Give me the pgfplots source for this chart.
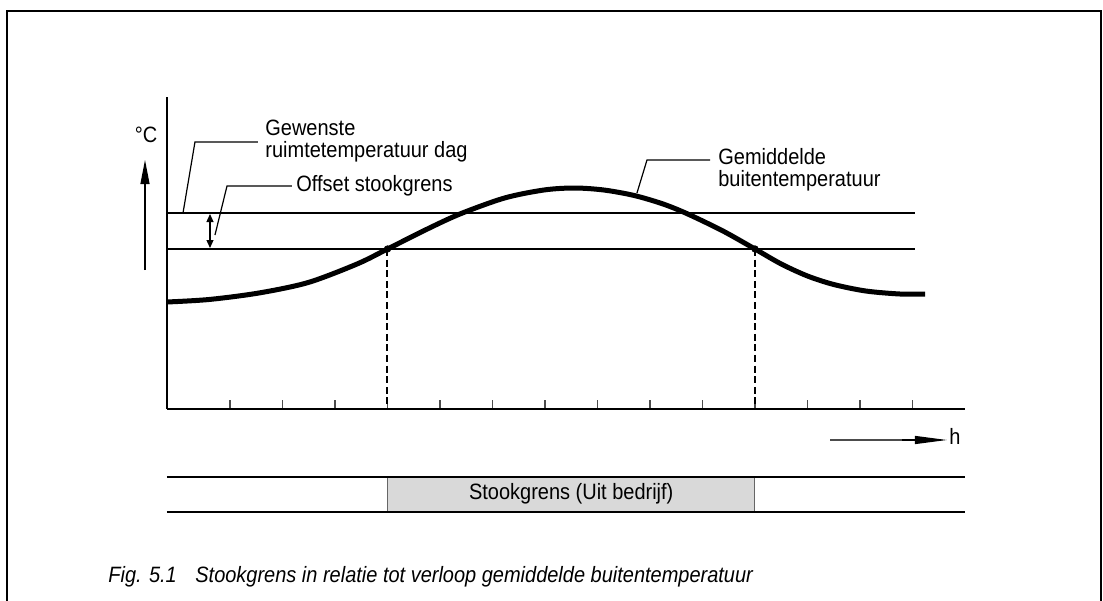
\documentclass[border=0pt]{standalone}
\usepackage{fontspec}
\setmainfont{Liberation Sans}[FakeStretch=0.9]
\usepackage{pgfplots}
\pgfplotsset{compat=1.18}
\usetikzlibrary{arrows.meta}

\tikzset{lbl/.style={font=\fontsize{11.1}{11}\selectfont, inner sep=0pt}}

\begin{document}
\begin{tikzpicture}
\begin{axis}[
  scale only axis,
  width=399pt, height=156pt,
  xmin=-0.2, xmax=15, ymin=0, ymax=31.2,
  axis lines*=left,
  axis line style={line width=0.9pt},
  xtick={1,...,14}, xticklabels={},
  ytick=\empty,
  xtick align=inside,
  major tick length=4.5pt,
  tick style={line width=0.6pt, black!70},
  clip=false,
]
% limit lines
\addplot[line width=1pt] coordinates {(-0.2,19.6) (14.05,19.6)};
\addplot[line width=1pt] coordinates {(-0.2,16.0) (14.05,16.0)};
% switch-off points
\addplot[line width=1pt, dash pattern=on 3.5pt off 1.8pt] coordinates {(4,16) (4,0)};
\addplot[line width=1pt, dash pattern=on 3.5pt off 1.8pt] coordinates {(11,16) (11,0)};
% average outdoor temperature
\addplot[line width=2.5pt, smooth, tension=0.5] coordinates {
  (-0.2,10.7) (0.6,10.95) (1.55,11.6) (2.49,12.65) (3.42,14.5) (4.0,16.0)
  (4.72,17.9) (5.38,19.5) (6.23,21.1) (6.98,21.9) (7.56,22.1) (8.12,21.9)
  (8.7,21.35) (9.25,20.5) (9.72,19.5) (10.39,17.8) (11.0,16.0) (11.5,14.5)
  (12.0,13.3) (12.5,12.45) (13.11,11.8) (13.76,11.5) (14.24,11.5)};
\addplot[only marks, mark=*, mark size=1.6pt] coordinates {(4,16) (11,16)};
% bar below
\addplot[fill=black!15, draw=black!60, line width=0.5pt] coordinates {
  (4,-6.8) (11,-6.8) (11,-10.3) (4,-10.3) (4,-6.8)};
\addplot[line width=0.8pt] coordinates {(-0.2,-6.8) (15,-6.8)};
\addplot[line width=0.8pt] coordinates {(-0.2,-10.3) (15,-10.3)};

% annotations
\draw[line width=0.6pt, -{Triangle[length=12pt,width=4.5pt]}] (axis cs:-0.619,13.9) -- (axis cs:-0.619,24.9);
\node[lbl] at (axis cs:-0.6,27.4) {°C};
\draw[line width=0.6pt] (axis cs:0.105,19.6) -- (axis cs:0.333,26.7) -- (axis cs:1.533,26.7);
\node[lbl, anchor=west, align=left] at (axis cs:1.667,26.8) {Gewenste\\ruimtetemperatuur dag};
\draw[line width=0.6pt] (axis cs:0.714,17.4) -- (axis cs:0.943,22.3) -- (axis cs:2.181,22.3);
\node[lbl, anchor=west] at (axis cs:2.257,22.3) {Offset stookgrens};
\draw[line width=0.6pt, {Triangle[length=4pt,width=3.5pt]}-{Triangle[length=4pt,width=3.5pt]}] (axis cs:0.619,19.5) -- (axis cs:0.619,16.1);
\draw[line width=0.6pt] (axis cs:8.752,21.6) -- (axis cs:8.943,24.9) -- (axis cs:10.143,24.9);
\node[lbl, anchor=west, align=left] at (axis cs:10.295,23.95) {Gemiddelde\\buitentemperatuur};
\draw[line width=0.6pt, black!70] (axis cs:12.43,-3.1) -- (axis cs:14.1,-3.1);
\draw[line width=0.6pt, -{Triangle[length=16pt,width=4pt]}] (axis cs:13.8,-3.1) -- (axis cs:14.657,-3.1);
\node[lbl, anchor=west] at (axis cs:14.695,-2.7) {h};
\node[lbl] at (axis cs:7.5,-8.5) {Stookgrens (Uit bedrijf)};
\node[lbl, anchor=west] at (axis cs:-1.324,-16.8) {\itshape Fig. 5.1};
\node[lbl, anchor=west] at (axis cs:0.333,-16.8) {\itshape Stookgrens in relatie tot verloop gemiddelde buitentemperatuur};
% frame
\draw[line width=0.7pt] (axis cs:-3.248,-19.6) -- (axis cs:-3.248,39.8) -- (axis cs:17.59,39.8) -- (axis cs:17.59,-19.6);
\coordinate (bbll) at (axis cs:-3.381,-19.2);
\coordinate (bbur) at (axis cs:17.629,40.9);
\end{axis}
\pgfresetboundingbox
\path[use as bounding box] (bbll) rectangle (bbur);
\end{tikzpicture}
\end{document}
